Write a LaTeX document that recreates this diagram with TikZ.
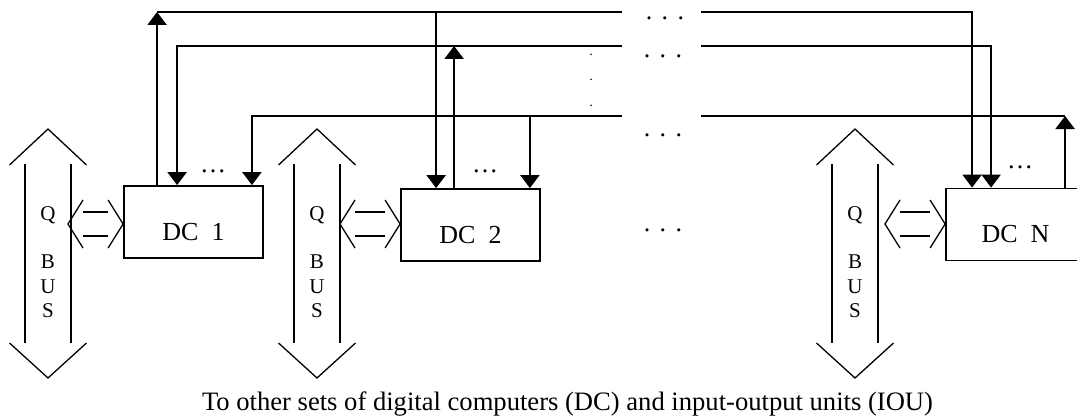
\documentclass[tikz,border=0pt]{standalone}
\usepackage{fontspec}
\setmainfont{Liberation Serif}
\usepackage{tikz}
\usetikzlibrary{calc,arrows.meta}
\tikzset{
  sig/.style={draw=black, line width=2.2pt},
  arr/.style={sig, -{Triangle[width=19pt,length=13pt]}},
  outline/.style={draw=black, line width=1.3pt},
  dcbox/.style={draw=black, line width=1.8pt, minimum width=139pt, minimum height=72pt, inner sep=0pt},
  dclbl/.style={font=\fontsize{26}{30}\selectfont, yshift=-10pt},
  qtext/.style={font=\fontsize{21}{24.5}\selectfont, align=center, inner sep=0pt},
  dots/.style={font=\fontsize{26}{30}\selectfont, inner sep=0pt, anchor=base},
  vdots/.style={font=\fontsize{14}{25.5}\selectfont, align=center, inner sep=0pt},
  caption/.style={font=\fontsize{26.6}{30}\selectfont}
}
\newcommand\spdots{.\hspace{9.5pt}.\hspace{9.5pt}.}

\begin{document}
\begin{tikzpicture}[x=1pt, y=-1pt]
  \useasboundingbox (0,0) rectangle (1077,420);
  \clip (0,0) rectangle (1077,420);

  % levels of the three lines and the gap
  \coordinate (h1) at (0,12);
  \coordinate (h2) at (0,46);
  \coordinate (h3) at (0,116);
  \coordinate (gl) at (622,0);
  \coordinate (gr) at (701,0);

  % computers
  \node[dcbox, label={[dclbl]center:DC\hspace{0.5em}1}] (dc1) at (193.5,222) {};
  \node[dcbox, label={[dclbl]center:DC\hspace{0.5em}2}] (dc2) at (470.5,225) {};
  \node[dcbox, label={[dclbl]center:DC\hspace{0.5em}N}] (dcN) at (1015.5,224.5) {};

  % DC 1
  \draw[arr] ([xshift=34]dc1.north west) -- ([xshift=34]dc1.north west |- h1);
  \draw[sig] ([xshift=34]dc1.north west |- h1) -- (gl |- h1);
  \draw[arr] (gl |- h2) -- ([xshift=54]dc1.north west |- h2) -- ([xshift=54]dc1.north west);
  \draw[arr] (gl |- h3) -- ([xshift=-12]dc1.north east |- h3) -- ([xshift=-12]dc1.north east);
  \node[dots] (e1) at (213,172) {…};

  % DC 2
  \draw[arr] ([xshift=36]dc2.north west |- h1) -- ([xshift=36]dc2.north west);
  \draw[arr] ([xshift=54]dc2.north west) -- ([xshift=54]dc2.north west |- h2);
  \draw[arr] ([xshift=-11]dc2.north east |- h3) -- ([xshift=-11]dc2.north east);
  \node[dots] (e2) at (485,172) {…};

  % DC N
  \draw[arr] (gr |- h1) -- ([xshift=27]dcN.north west |- h1) -- ([xshift=27]dcN.north west);
  \draw[arr] (gr |- h2) -- ([xshift=46]dcN.north west |- h2) -- ([xshift=46]dcN.north west);
  \draw[sig] (gr |- h3) -- ([xshift=120]dcN.north west |- h3);
  \draw[arr] ([xshift=120]dcN.north west) -- ([xshift=120]dcN.north west |- h3);
  \node[dots] (e3) at (1020,168) {…};

  % gaps
  \node[dots] (g1) at (665,20) {\spdots};
  \node[dots] (g2) at (663,58) {\spdots};
  \node[dots] (g3) at (663,136) {\spdots};
  \node[dots] (g4) at (663,231) {\spdots};
  \node[vdots] (g5) at (591,80) {.\\.\\.};

  % Q buses and their links
  \foreach \c/\x/\d/\n in {48/68/dc1/1, 317/340/dc2/2, 855/885/dcN/3} {
    \draw[outline] (\c-38.5,165) -- (\c,129) -- (\c+38.5,165);
    \draw[outline] (\c-23,164) -- (\c-23,343);
    \draw[outline] (\c+23,164) -- (\c+23,343);
    \draw[outline] (\c-38.5,343) -- (\c,378) -- (\c+38.5,343);
    \node[qtext] (qb\n) at (\c,262) {Q\\[24pt]B\\U\\S};
    \coordinate (q\n) at (\x,224);
    \coordinate (t\n) at (q\n -| \d.west);
    \draw[outline] ($(q\n)+(15,-24)$) -- (q\n) -- ($(q\n)+(15,24)$);
    \draw[outline] ($(q\n)+(15,-12)$) -- ($(t\n)+(-15,-12)$);
    \draw[outline] ($(q\n)+(15,12)$) -- ($(t\n)+(-15,12)$);
    \draw[outline] ($(t\n)+(-15,-24)$) -- (t\n) -- ($(t\n)+(-15,24)$);
  }

  \node[caption] (cap) at (567.5,404) {To other sets of digital computers (DC) and input-output units (IOU)};
\end{tikzpicture}
\end{document}
